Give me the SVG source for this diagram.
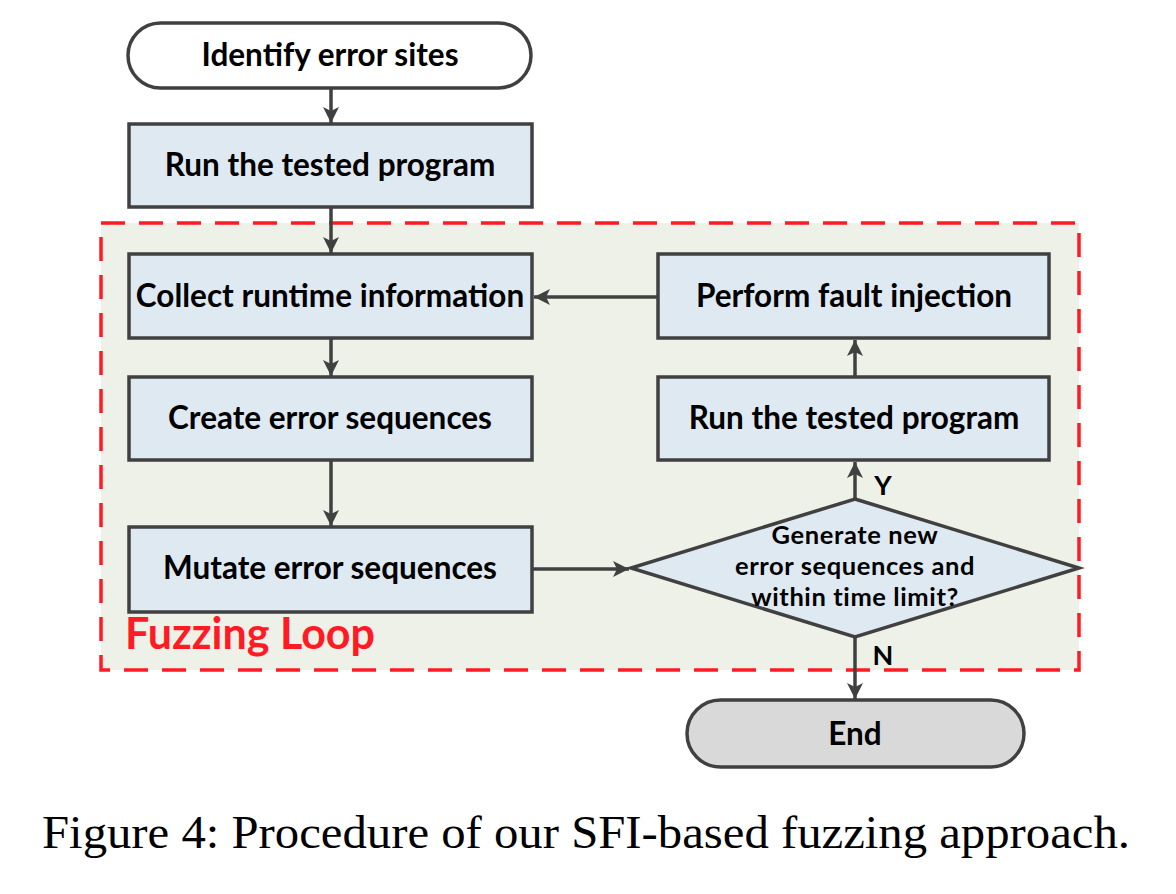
<svg xmlns="http://www.w3.org/2000/svg" width="1176" height="894" viewBox="0 0 1176 894">
<defs>
<marker id="ah" markerUnits="userSpaceOnUse" markerWidth="20" markerHeight="20" viewBox="0 0 20 20" refX="18" refY="10" orient="auto">
<path d="M2,2 L18,10 L2,18 L6,10 Z" fill="#404040"/>
</marker>
<style>
.box{fill:#DFE9F1;stroke:#404040;stroke-width:3.5}
.t{font-family:Lato,"Liberation Sans",sans-serif;font-weight:bold;font-size:31.5px;fill:#000;text-anchor:middle}
.dt{font-family:Lato,"Liberation Sans",sans-serif;font-weight:bold;font-size:25.5px;letter-spacing:0.6px;fill:#000;text-anchor:middle}
.yn{font-family:Lato,"Liberation Sans",sans-serif;font-weight:bold;font-size:27px;fill:#000;text-anchor:middle}
.c{fill:none;stroke:#404040;stroke-width:3.5;marker-end:url(#ah)}
</style>
</defs>
<rect width="1176" height="894" fill="#fff"/>
<g id="fuzzing-loop">
<rect x="101" y="223" width="978" height="447" fill="#EEF1E7" stroke="#FF1A24" stroke-width="3.5" stroke-dasharray="24,14"/>
<text x="125" y="649" font-family="Lato,'Liberation Sans',sans-serif" font-weight="bold" font-size="43" fill="#FF1A24">Fuzzing Loop</text>
</g>
<g id="connectors">
<path class="c" d="M331,89 V123"/>
<path class="c" d="M331,208 V253"/>
<path class="c" d="M331,339 V376"/>
<path class="c" d="M331,461 V526"/>
<path class="c" d="M658,297 H534"/>
<path class="c" d="M855,377 V340"/>
<path class="c" d="M855,499 V462"/>
<path class="c" d="M533,569 H629"/>
<path class="c" d="M855,637 V699"/>
<text class="yn" x="883" y="495">Y</text>
<text class="yn" x="883" y="665">N</text>
</g>
<g id="identify">
<rect x="128" y="23" width="403" height="65" rx="32.5" fill="#fff" stroke="#404040" stroke-width="3.5"/>
<text class="t" x="330" y="66">Identify error sites</text>
</g>
<g id="run1">
<rect class="box" x="129" y="124" width="403" height="83"/>
<text class="t" x="330" y="176">Run the tested program</text>
</g>
<g id="collect">
<rect class="box" x="129" y="254" width="403" height="84"/>
<text class="t" x="330" y="307">Collect runtime information</text>
</g>
<g id="create">
<rect class="box" x="129" y="377" width="403" height="83"/>
<text class="t" x="330" y="429">Create error sequences</text>
</g>
<g id="mutate">
<rect class="box" x="129" y="527" width="403" height="85"/>
<text class="t" x="330" y="579">Mutate error sequences</text>
</g>
<g id="perform">
<rect class="box" x="658" y="254" width="391" height="84"/>
<text class="t" x="854" y="307">Perform fault injection</text>
</g>
<g id="run2">
<rect class="box" x="658" y="377" width="391" height="83"/>
<text class="t" x="854" y="429">Run the tested program</text>
</g>
<g id="decision">
<polygon class="box" points="855,499 1079,568 855,637 631,568"/>
<text class="dt" x="855" y="544">Generate new</text>
<text class="dt" x="855" y="575">error sequences and</text>
<text class="dt" x="855" y="606">within time limit?</text>
</g>
<g id="end">
<rect x="687" y="700" width="337" height="67" rx="33.5" fill="#D9D9D9" stroke="#404040" stroke-width="3.5"/>
<text class="t" x="855" y="745">End</text>
</g>
<text x="42" y="848" font-family="'Liberation Serif',serif" font-size="46" fill="#000" textLength="1088" lengthAdjust="spacingAndGlyphs">Figure 4: Procedure of our SFI-based fuzzing approach.</text>
</svg>
